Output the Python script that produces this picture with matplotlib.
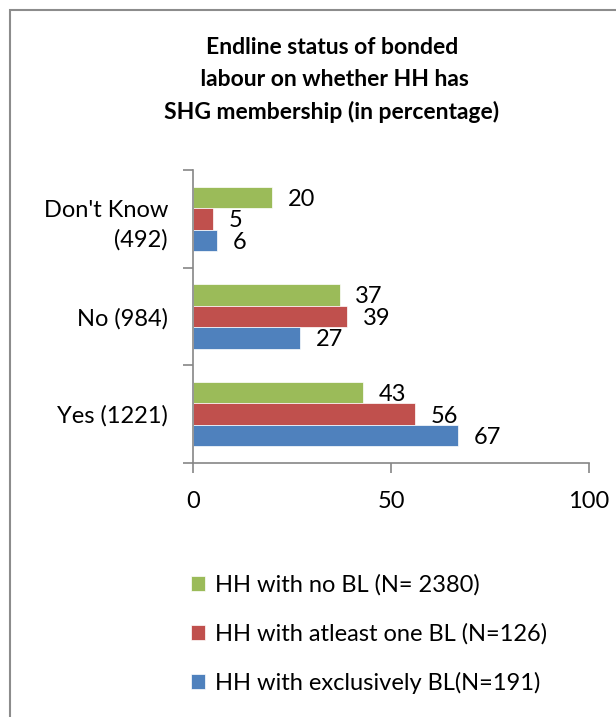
import numpy as np
import matplotlib.pyplot as plt
from matplotlib.patches import Rectangle
from matplotlib.ticker import FixedLocator

plt.rcParams['font.family'] = ['Lato', 'DejaVu Sans']

# data
categories = ['Yes (1221)', 'No (984)', "Don't Know\n(492)"]
series_names = ['HH with no BL (N= 2380)',
                'HH with atleast one BL (N=126)',
                'HH with exclusively BL(N=191)']
no_bl = [43, 37, 20]
atleast_one = [56, 39, 5]
exclusively = [67, 27, 6]
colors = ['#9BBB59', '#C0504D', '#4F81BD']

fig = plt.figure(figsize=(6.16, 7.17), dpi=100)
ax = fig.add_axes([193/616, 1 - 463/717, 396/616, 293/717])

y = np.arange(len(categories))
h = 0.22
series = [no_bl, atleast_one, exclusively]
offsets = [h, 0, -h]
for vals, off, c, name in zip(series, offsets, colors, series_names):
    ax.barh(y + off, vals, height=h, color=c, label=name, edgecolor='white', linewidth=0.5)
    for yi, v in zip(y, vals):
        ax.text(v + 4, yi + off - 0.02, str(v), va='center', ha='left', fontsize=17)

ax.set_xlim(0, 100)
ax.set_ylim(-0.5, 2.5)
ax.set_xticks([0, 50, 100])
ax.set_xticklabels(['0', '50', '100'], fontsize=17)
ax.set_yticks(y)
ax.set_yticklabels(categories, fontsize=17, linespacing=1.5)
ax.yaxis.set_minor_locator(FixedLocator([-0.5, 0.5, 1.5, 2.5]))
ax.tick_params(axis='y', which='major', length=0, pad=18)
ax.tick_params(axis='y', which='minor', length=7, color='#868686', width=1.2)
ax.tick_params(axis='x', length=7, color='#868686', width=1.2, pad=13)
for s in ['top', 'right']:
    ax.spines[s].set_visible(False)
for s in ['left', 'bottom']:
    ax.spines[s].set_color('#868686')
    ax.spines[s].set_linewidth(1.2)

fig.text(332/616, 1 - 80/717, 'Endline status of bonded\n labour on whether HH has\nSHG membership (in percentage)',
         ha='center', va='center', fontsize=16.5, fontweight='bold', linespacing=1.65)

handles, labels = ax.get_legend_handles_labels()
fig.legend(handles, labels, loc='upper left', bbox_to_anchor=(170/616, 1 - 553/717),
           frameon=False, fontsize=17, handlelength=0.6, handleheight=0.6,
           handletextpad=0.4, labelspacing=1.15)

fig.patches.append(Rectangle((10/616, -0.1), 2, 1.1 - 10/717, transform=fig.transFigure,
                             fill=False, edgecolor='#8c8c8c', linewidth=1.5))

fig.savefig('out.png', dpi=100)
